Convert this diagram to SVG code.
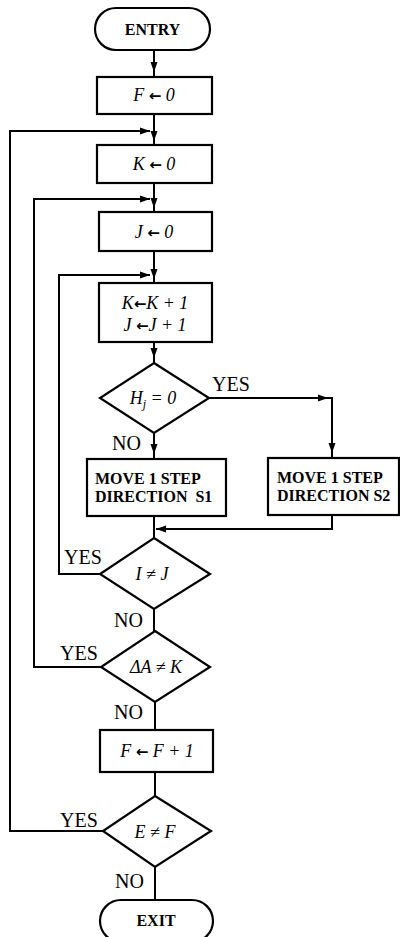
<svg xmlns="http://www.w3.org/2000/svg" width="400" height="937" viewBox="0 0 400 937">
<style>
.shape{fill:#fff;stroke:#000;stroke-width:2.2}
.line{fill:none;stroke:#000;stroke-width:2}
.lbl{font-family:"Liberation Serif","Times New Roman",serif;font-size:20px;fill:#000}
.math{font-family:"Liberation Serif","Times New Roman",serif;font-size:18px;font-style:italic;fill:#000;text-anchor:middle}
.arr{font-family:"DejaVu Sans",sans-serif;font-style:normal;font-size:15px;font-weight:bold}
.bold{font-family:"Liberation Serif","Times New Roman",serif;font-size:16px;font-weight:bold;fill:#000}
.term{font-family:"Liberation Serif","Times New Roman",serif;font-size:16px;font-weight:bold;fill:#000;text-anchor:middle}
</style>
<defs>
<marker id="ah" markerUnits="userSpaceOnUse" markerWidth="10" markerHeight="8" refX="10" refY="4" orient="auto">
<path d="M0,0.5 L10,4 L0,7.5 z" fill="#000"/>
</marker>
</defs>
<g id="connectors">
<path class="line" d="M154,50 V72" marker-end="url(#ah)"/>
<path class="line" d="M154,71 V77"/>
<path class="line" d="M154,114 V141" marker-end="url(#ah)"/>
<path class="line" d="M154,140 V145"/>
<path class="line" d="M103,831 H10 V131 H150" marker-end="url(#ah)"/>
<path class="line" d="M154,183 V208" marker-end="url(#ah)"/>
<path class="line" d="M154,207 V212"/>
<path class="line" d="M101,667 H34 V199 H150" marker-end="url(#ah)"/>
<path class="line" d="M154,251 V279" marker-end="url(#ah)"/>
<path class="line" d="M154,278 V283"/>
<path class="line" d="M100,574 H59 V275 H150" marker-end="url(#ah)"/>
<path class="line" d="M154,342 V358" marker-end="url(#ah)"/>
<path class="line" d="M154,357 V363"/>
<path class="line" d="M209,398 H328" marker-end="url(#ah)"/>
<path class="line" d="M327,398 H332 V453" marker-end="url(#ah)"/>
<path class="line" d="M332,452 V458"/>
<path class="line" d="M154,433 V454" marker-end="url(#ah)"/>
<path class="line" d="M154,453 V459"/>
<path class="line" d="M332,515 V529 H156" marker-end="url(#ah)"/>
<path class="line" d="M154,516 V538"/>
<path class="line" d="M154,609 V631"/>
<path class="line" d="M155,702 V730"/>
<path class="line" d="M155,772 V796"/>
<path class="line" d="M155,867 V900"/>
</g>
<g id="entry">
<rect class="shape" x="95" y="8" width="115" height="42" rx="21"/>
<text class="term" x="152.5" y="35">ENTRY</text>
</g>
<g id="f0">
<rect class="shape" x="97" y="77" width="115" height="37"/>
<text class="math" x="154" y="101">F <tspan class="arr">←</tspan> 0</text>
</g>
<g id="k0">
<rect class="shape" x="97" y="145" width="115" height="38"/>
<text class="math" x="154" y="170">K <tspan class="arr">←</tspan> 0</text>
</g>
<g id="j0">
<rect class="shape" x="99" y="212" width="113" height="39"/>
<text class="math" x="154" y="238">J <tspan class="arr">←</tspan> 0</text>
</g>
<g id="inc">
<rect class="shape" x="99" y="283" width="113" height="59"/>
<text class="math" x="155" y="309">K<tspan class="arr">←</tspan>K + 1</text>
<text class="math" x="155" y="331">J <tspan class="arr">←</tspan>J + 1</text>
</g>
<g id="dH">
<polygon class="shape" points="154,363 209,398 154,433 100,398"/>
<text class="math" x="153" y="404">H<tspan font-size="12" dy="4">j</tspan><tspan dy="-4"> = 0</tspan></text>
<text class="lbl" x="212" y="391">YES</text>
<text class="lbl" x="112" y="450">NO</text>
</g>
<g id="s1">
<rect class="shape" x="87" y="459" width="139" height="57"/>
<text class="bold" x="95" y="484">MOVE 1 STEP</text>
<text class="bold" x="95" y="502" xml:space="preserve">DIRECTION  S1</text>
</g>
<g id="s2">
<rect class="shape" x="268" y="458" width="131" height="57"/>
<text class="bold" x="277" y="483">MOVE 1 STEP</text>
<text class="bold" x="277" y="501">DIRECTION S2</text>
</g>
<g id="dIJ">
<polygon class="shape" points="154,538 210,574 154,609 100,574"/>
<text class="math" x="152" y="580">I ≠ J</text>
<text class="lbl" x="64" y="564">YES</text>
<text class="lbl" x="114" y="627">NO</text>
</g>
<g id="dAK">
<polygon class="shape" points="155,631 210,667 155,702 101,667"/>
<text class="math" x="156" y="673">ΔA ≠ K</text>
<text class="lbl" x="60" y="660">YES</text>
<text class="lbl" x="114" y="719">NO</text>
</g>
<g id="fInc">
<rect class="shape" x="100" y="730" width="113" height="42"/>
<text class="math" x="157" y="757">F <tspan class="arr">←</tspan> F + 1</text>
</g>
<g id="dEF">
<polygon class="shape" points="155,796 211,831 155,867 103,831"/>
<text class="math" x="155" y="838">E ≠ F</text>
<text class="lbl" x="60" y="827">YES</text>
<text class="lbl" x="115" y="888">NO</text>
</g>
<g id="exit">
<rect class="shape" x="100" y="900" width="113" height="42" rx="21"/>
<text class="term" x="156" y="926">EXIT</text>
</g>
</svg>
